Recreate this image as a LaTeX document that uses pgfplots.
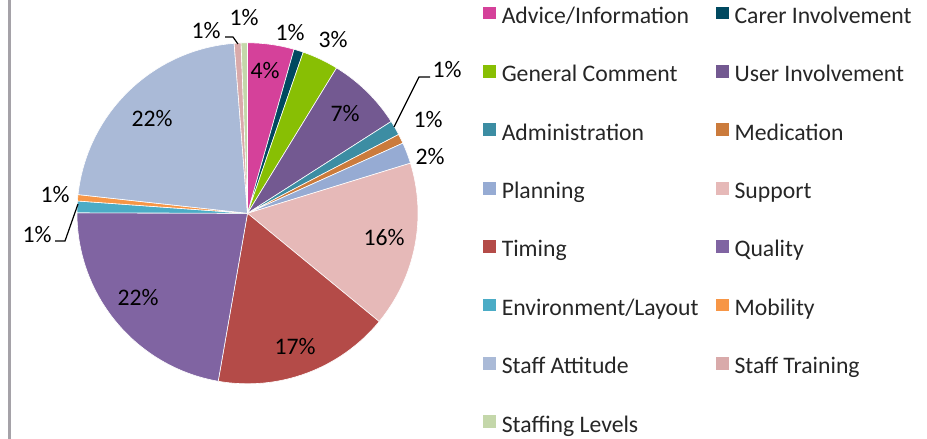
\documentclass[border=0pt]{standalone}
\usepackage{pgfplots}
\pgfplotsset{compat=1.18}
\usepackage{pgfplotstable}
\usepackage{fontspec}
\setmainfont{Carlito}

\definecolor{cAdv}{HTML}{D5419A}
\definecolor{cCarer}{HTML}{004960}
\definecolor{cGen}{HTML}{88BF04}
\definecolor{cUser}{HTML}{735991}
\definecolor{cAdmin}{HTML}{3C8DA3}
\definecolor{cMed}{HTML}{CB7B3C}
\definecolor{cPlan}{HTML}{96ABD3}
\definecolor{cSupp}{HTML}{E6B9B8}
\definecolor{cTime}{HTML}{B44B48}
\definecolor{cQual}{HTML}{8064A2}
\definecolor{cEnv}{HTML}{4BACC6}
\definecolor{cMob}{HTML}{F79646}
\definecolor{cAtt}{HTML}{AABAD7}
\definecolor{cTrain}{HTML}{D9AAAA}
\definecolor{cLev}{HTML}{C4D7AA}
\definecolor{frame}{HTML}{A5A2A8}

% share in percent, slice colour, label centre (picture pixels, y down)
\pgfplotstableread[col sep=comma]{
name,value,col,lx,ly
Advice/Information,4.4,cAdv,265,71
Carer Involvement,0.9,cCarer,290,33
General Comment,3.45,cGen,333,40
User Involvement,7.2,cUser,345,114
Administration,1.4,cAdmin,447,70
Medication,0.9,cMed,428,120
Planning,2.0,cPlan,430,157
Support,15.7,cSupp,384,238
Timing,16.8,cTime,295,347
Quality,22.3,cQual,138,298
Environment/Layout,1.1,cEnv,37,235
Mobility,0.6,cMob,55,195
Staff Attitude,22.0,cAtt,152,119
Staff Training,0.65,cTrain,206,31
Staffing Levels,0.6,cLev,244,18
}\piedata

\begin{document}
\begin{tikzpicture}
\begin{axis}[
    scale only axis,
    width=463.5pt, height=219.5pt,
    xmin=0, xmax=927, ymin=0, ymax=439,
    axis line style={draw=none},
    xtick=\empty, ytick=\empty,
    font=\fontsize{11.85}{14}\selectfont,
    legend columns=2,
    legend cell align=left,
    legend image code/.code={\fill[#1, draw=none] (0pt,-0.5pt) rectangle (6.4pt,5.9pt);},
    legend style={
        at={(0.521,0.985)}, anchor=north west,
        draw=none, fill=none, inner sep=0pt, outer sep=0pt,
        row sep=18.8pt,
        nodes={inner sep=0pt, text height=7pt, text depth=2pt, text=black!85},
        /tikz/every odd column/.append style={column sep=3pt},
        /tikz/every even column/.append style={column sep=0pt},
    },
]
% frame line at the left edge
\draw[frame, line width=1.5pt] (axis cs:9.5,0) -- (axis cs:9.5,439);

\pgfplotsextra{
  \gdef\cum{0}
  \foreach \i in {0,...,14}{
    \pgfplotstablegetelem{\i}{value}\of\piedata \let\v\pgfplotsretval
    \pgfplotstablegetelem{\i}{col}\of\piedata \let\slicecol\pgfplotsretval
    \pgfplotstablegetelem{\i}{lx}\of\piedata \let\lx\pgfplotsretval
    \pgfplotstablegetelem{\i}{ly}\of\piedata \let\ly\pgfplotsretval
    \pgfmathsetmacro\aA{90-3.6*\cum}
    \pgfmathsetmacro\aB{90-3.6*(\cum+\v)}
    \fill[\slicecol, draw=white, line width=0.3pt]
        (axis cs:247.5,225.7) -- ++(\aA:85.25pt)
        arc[start angle=\aA, end angle=\aB, radius=85.25pt] -- cycle;
    \pgfmathtruncatemacro\r{round(\v)}
    \pgfmathsetmacro\ly{439-\ly}
    \node[inner sep=0pt, text=black] at (axis cs:\lx,\ly) {\r\%};
    \pgfmathsetmacro\newcum{\cum+\v}
    \global\let\cum\newcum
  }
}

% leader lines
\draw[black, line width=0.6pt] (axis cs:394,312) -- (axis cs:419,362) -- (axis cs:430,362);
\draw[black, line width=0.6pt] (axis cs:78,235) -- (axis cs:65,198) -- (axis cs:55,198);
\draw[black, line width=0.6pt] (axis cs:238,395) -- (axis cs:233,402) -- (axis cs:225,402);

\addlegendimage{fill=cAdv}   \addlegendentry{\makebox[107pt][l]{Advice/Information}}
\addlegendimage{fill=cCarer} \addlegendentry{Carer Involvement}
\addlegendimage{fill=cGen}   \addlegendentry{\makebox[107pt][l]{General Comment}}
\addlegendimage{fill=cUser}  \addlegendentry{User Involvement}
\addlegendimage{fill=cAdmin} \addlegendentry{\makebox[107pt][l]{Administration}}
\addlegendimage{fill=cMed}   \addlegendentry{Medication}
\addlegendimage{fill=cPlan}  \addlegendentry{\makebox[107pt][l]{Planning}}
\addlegendimage{fill=cSupp}  \addlegendentry{Support}
\addlegendimage{fill=cTime}  \addlegendentry{\makebox[107pt][l]{Timing}}
\addlegendimage{fill=cQual}  \addlegendentry{Quality}
\addlegendimage{fill=cEnv}   \addlegendentry{\makebox[107pt][l]{Environment/Layout}}
\addlegendimage{fill=cMob}   \addlegendentry{Mobility}
\addlegendimage{fill=cAtt}   \addlegendentry{\makebox[107pt][l]{Staff Attitude}}
\addlegendimage{fill=cTrain} \addlegendentry{Staff Training}
\addlegendimage{fill=cLev}   \addlegendentry{\makebox[107pt][l]{Staffing Levels}}
\end{axis}
\end{tikzpicture}
\end{document}
